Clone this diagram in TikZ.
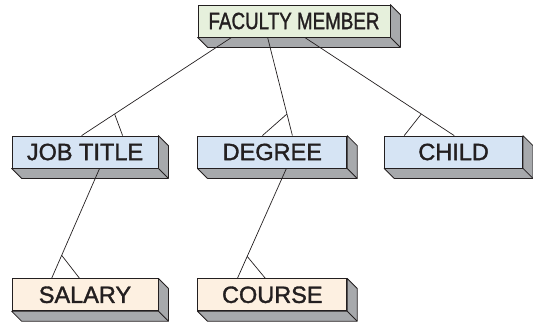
\documentclass[tikz,border=0pt]{standalone}
\usepackage{fontspec}
\setmainfont{Liberation Sans}
\newfontfamily\boxfont[FakeBold=1.5]{Liberation Sans}
\usepackage{tikz}
\usetikzlibrary{positioning,calc}

\definecolor{topgreen}{RGB}{230,240,220}
\definecolor{midblue}{RGB}{214,228,244}
\definecolor{lowpeach}{RGB}{253,240,225}
\definecolor{sidegray}{RGB}{167,169,172}
\definecolor{inkline}{RGB}{35,31,32}

% grey faces under and right of a box
\newcommand{\slab}[1]{
  \draw[side] (#1.north east) -- ++(10,10) -- ($(#1.south east)+(10,10)$)
    -- ($(#1.south west)+(10,10)$) -- (#1.south west) -- (#1.south east) -- cycle;
  \draw[side] (#1.south east) -- ++(10,10);
}

\begin{document}
\begin{tikzpicture}[
  x=1pt, y=-1pt,
  entity/.style = {
    draw = inkline,
    line width = 0.8pt,
    rectangle,
    inner sep = 0pt,
    minimum height = 32pt,
    font = \boxfont\fontsize{23.5}{26}\selectfont,
    text = inkline,
  },
  side/.style = {draw = inkline, line width = 0.8pt, fill = sidegray, line join = round},
  link/.style = {draw = inkline, line width = 0.7pt},
]
  \useasboundingbox (0,0) rectangle (533,322);

  \node[entity, fill=topgreen, minimum width=192pt] (fac) at (294,21)
    {\scalebox{0.8}[1]{FACULTY MEMBER}};

  \node[entity, fill=midblue, minimum width=146pt] (job) at (85,152) {JOB TITLE};
  \node[entity, fill=midblue, minimum width=149pt] (deg) [right=39pt of job] {DEGREE};
  \node[entity, fill=midblue, minimum width=138pt] (kid) [right=37pt of deg] {CHILD};

  \node[entity, fill=lowpeach, minimum width=146pt] (sal) [below=110pt of job] {SALARY};
  \node[entity, fill=lowpeach, minimum width=149pt] (crs) [below=110pt of deg] {COURSE};

  \slab{fac}
  \slab{job}
  \slab{deg}
  \slab{kid}
  \slab{sal}
  \slab{crs}

  % line ends and crow's feet
  \coordinate (f1) at ($(fac.south west)+(34,0)$);
  \coordinate (f2) at ($(fac.south west)+(70,0)$);
  \coordinate (f3) at ($(fac.south west)+(107,0)$);
  \coordinate (j0) at ($(job.north west)+(70,0)$);
  \coordinate (j1) at ($(job.north west)+(111,0)$);
  \coordinate (d0) at ($(deg.north west)+(95,0)$);
  \coordinate (d1) at ($(deg.north west)+(65,0)$);
  \coordinate (k0) at ($(kid.north west)+(70,0)$);
  \coordinate (k1) at ($(kid.north west)+(20,0)$);
  \coordinate (j2) at ($(job.south west)+(88,0)$);
  \coordinate (s0) at ($(sal.north west)+(40,0)$);
  \coordinate (s1) at ($(sal.north west)+(68,0)$);
  \coordinate (d2) at ($(deg.south west)+(89,0)$);
  \coordinate (c0) at ($(crs.north west)+(40,0)$);
  \coordinate (c1) at ($(crs.north west)+(68,0)$);

  \path[link] (f1) edge (j0) ($(f1)!0.78!(j0)$) edge (j1);
  \path[link] (f2) edge (d0) ($(f2)!0.78!(d0)$) edge (d1);
  \path[link] (f3) edge (k0) ($(f3)!0.78!(k0)$) edge (k1);
  \path[link] (j2) edge (s0) ($(j2)!0.79!(s0)$) edge (s1);
  \path[link] (d2) edge (c0) ($(d2)!0.8!(c0)$) edge (c1);
\end{tikzpicture}
\end{document}
